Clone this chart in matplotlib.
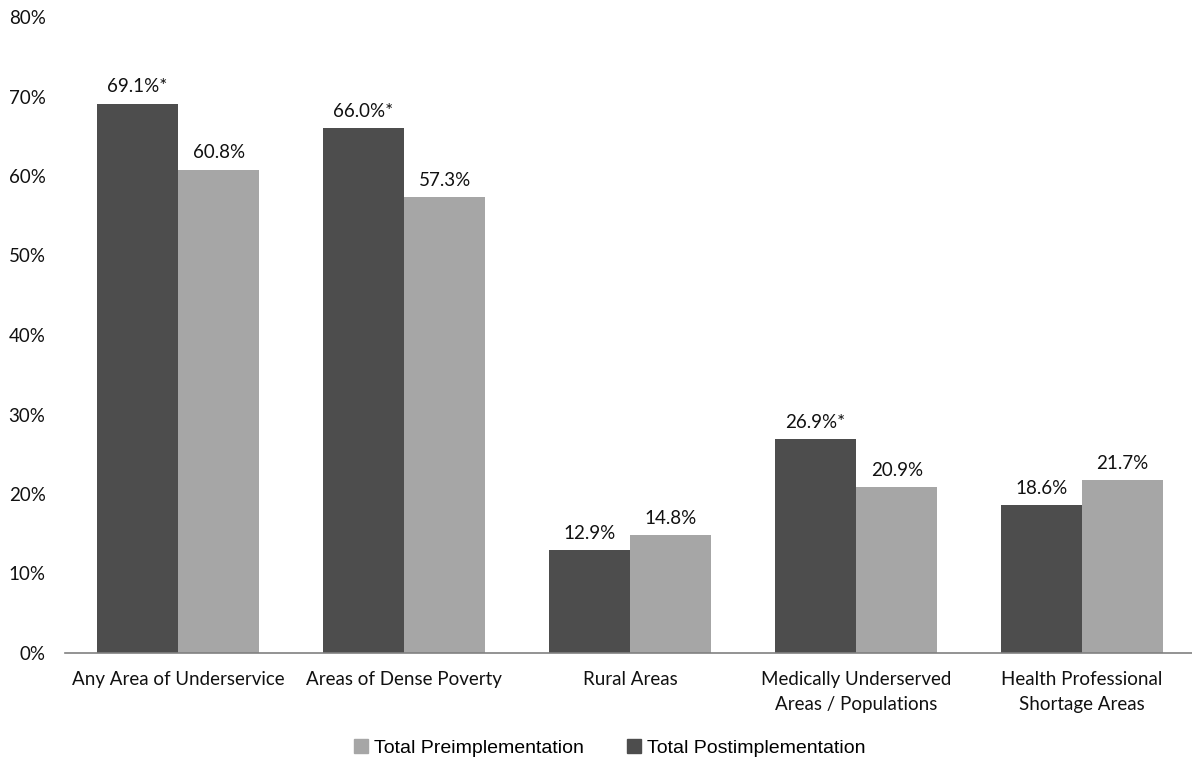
import matplotlib
matplotlib.use("Agg")
import matplotlib.pyplot as plt
import numpy as np
from matplotlib.patches import Patch

categories = ["Any Area of Underservice", "Areas of Dense Poverty", "Rural Areas",
              "Medically Underserved\nAreas / Populations", "Health Professional\nShortage Areas"]
post_values = [69.1, 66.0, 12.9, 26.9, 18.6]
pre_values = [60.8, 57.3, 14.8, 20.9, 21.7]
post_sig = [True, True, False, True, False]
yticks = [0, 10, 20, 30, 40, 50, 60, 70, 80]

DARK = "#4d4d4d"
LIGHT = "#a6a6a6"
TXT = "#111111"
label_font = "Lato"
FS = 13.5

fig = plt.figure(figsize=(11.92, 7.62), dpi=100)
W, H = 1192, 762
ax = fig.add_axes([65 / W, 1 - 653 / H, 1130 / W, 636 / H])

x = np.arange(len(categories))
bw = 0.36
ax.bar(x - bw / 2, post_values, width=bw, color=DARK, zorder=2)
ax.bar(x + bw / 2, pre_values, width=bw, color=LIGHT, zorder=2)

for xi, v, s in zip(x, post_values, post_sig):
    ax.annotate(f"{v:.1f}%" + ("*" if s else ""), (xi - bw / 2, v), xytext=(0, 6),
                textcoords="offset points", ha="center", va="bottom",
                fontsize=FS, family=label_font, color=TXT)
for xi, v in zip(x, pre_values):
    ax.annotate(f"{v:.1f}%", (xi + bw / 2, v), xytext=(0, 6),
                textcoords="offset points", ha="center", va="bottom",
                fontsize=FS, family=label_font, color=TXT)

ax.set_xlim(-0.5, len(categories) - 0.5)
ax.set_ylim(0, 80)
ax.set_yticks(yticks)
ax.set_yticklabels([f"{t}%" for t in yticks], fontsize=FS, family=label_font, color=TXT)
ax.set_xticks(x)
ax.set_xticklabels(categories, fontsize=FS, family=label_font, color=TXT, linespacing=1.6)
ax.tick_params(axis="both", length=0)
ax.tick_params(axis="y", pad=14)
ax.tick_params(axis="x", pad=13)
for sp in ["top", "right", "left"]:
    ax.spines[sp].set_visible(False)
ax.spines["bottom"].set_color("#808080")
ax.spines["bottom"].set_linewidth(1.2)

handles = [Patch(color=LIGHT, label="Total Preimplementation"),
           Patch(color=DARK, label="Total Postimplementation")]
fig.legend(handles=handles, loc="center", bbox_to_anchor=(610 / W, 1 - 748 / H), ncol=2,
           frameon=False, prop={"family": "Liberation Sans", "size": 14},
           handlelength=0.7, handleheight=0.7, handletextpad=0.35, columnspacing=2.2)

fig.savefig("out.png", dpi=100)
